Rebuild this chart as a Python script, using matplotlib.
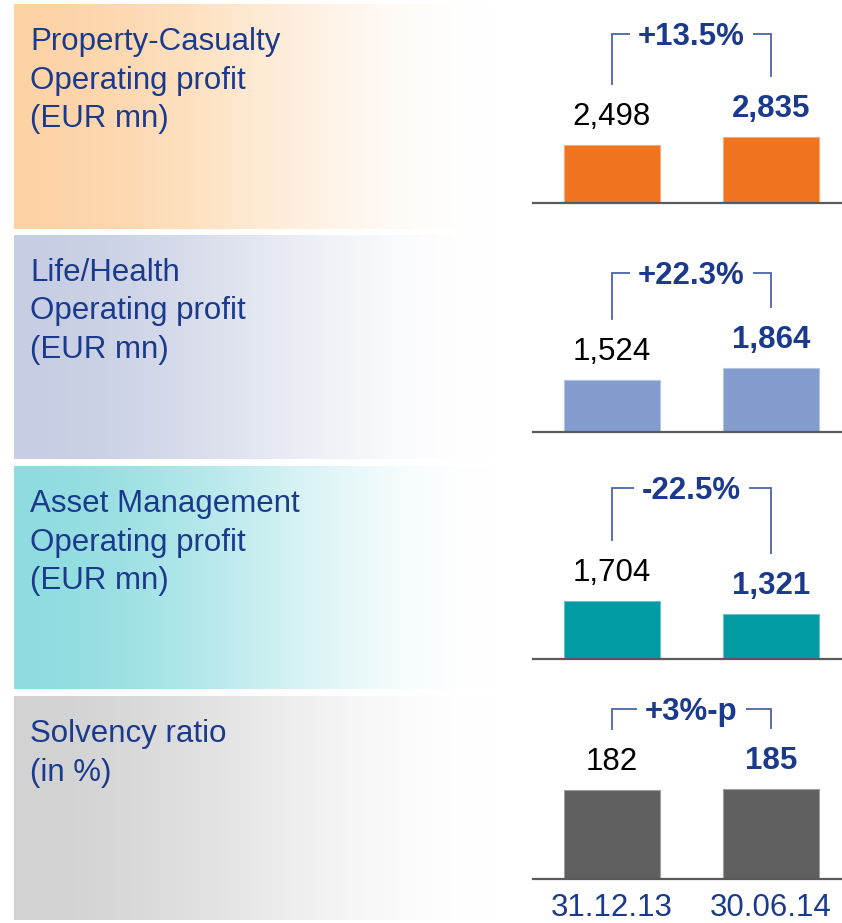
import numpy as np
import matplotlib.pyplot as plt
from matplotlib.colors import to_rgb

plt.rcParams['font.family'] = ['Liberation Sans', 'DejaVu Sans']

# data
dates = ['31.12.13', '30.06.14']
titles = [
    ['Property-Casualty', 'Operating profit', '(EUR mn)'],
    ['Life/Health', 'Operating profit', '(EUR mn)'],
    ['Asset Management', 'Operating profit', '(EUR mn)'],
    ['Solvency ratio', '(in %)'],
]
values = [[2498, 2835], [1524, 1864], [1704, 1321], [182, 185]]
changes = ['+13.5%', '+22.3%', '-22.5%', '+3%-p']

# styles
bar_colors = ['#F07320', '#829CCD', '#009BA3', '#5F5F5F']
panel_colors = ['#FDD3A6', '#C7CEE3', '#8FDCE0', '#D2D2D2']
navy = '#1B3A8C'
bracket_col = '#4A64A8'

# layout (pixels, image coords from top)
W, H = 842, 923
panel_top = [4, 235, 466, 696]
panel_bot = [229, 459, 689, 920]
baseline = [203, 432, 659, 879]
bracket_y = [34, 273, 488, 709]
ymax = [8560, 5740, 5670, 376]
fs = 22.5

fig = plt.figure(figsize=(W / 100, H / 100), dpi=100)
bg = fig.add_axes([0, 0, 1, 1])
bg.set_xlim(0, W)
bg.set_ylim(H, 0)
bg.axis('off')


def lighter(c, f=0.4):
    c = np.array(to_rgb(c))
    return tuple(c * (1 - f) + f)


for i in range(4):
    # gradient panel, fading smoothly to white on the right
    t = np.clip(np.linspace(0, 1, 516) / 0.93, 0, 1)
    f = 3 * t ** 2 - 2 * t ** 3
    c = np.array(to_rgb(panel_colors[i]))
    rgb = c[None, :] * (1 - f)[:, None] + f[:, None]
    bg.imshow(rgb[None], extent=[14, 530, panel_bot[i], panel_top[i]],
              aspect='auto', interpolation='bilinear')
    for k, line in enumerate(titles[i]):
        bg.text(30, panel_top[i] + 46 + k * 38.5, line, fontsize=fs,
                color=navy, va='baseline')

    # bars
    ax = fig.add_axes([533 / W, 1 - baseline[i] / H, (W - 533) / W,
                       (baseline[i] - panel_top[i]) / H])
    ax.patch.set_alpha(0)
    ax.set_xlim(-0.497, 1.447)
    ax.set_ylim(0, ymax[i])
    ax.bar([0, 1], values[i], width=0.604, color=bar_colors[i],
           edgecolor=lighter(bar_colors[i]), linewidth=0.8)
    for s in ['top', 'left', 'right']:
        ax.spines[s].set_visible(False)
    ax.spines['bottom'].set_color('#5A5A5A')
    ax.spines['bottom'].set_linewidth(1.6)
    ax.set_xticks([])
    ax.set_yticks([])

    for j, v in enumerate(values[i]):
        ax.annotate(f'{v:,}', (j, v), xytext=(0, 14.5), textcoords='offset points',
                    ha='center', va='baseline', fontsize=fs,
                    color='black' if j == 0 else navy,
                    fontweight='normal' if j == 0 else 'bold')

    # bracket with change
    pts = [ax.transData.transform((j, v)) for j, v in enumerate(values[i])]
    xs = [p[0] for p in pts]
    tops = [H - p[1] for p in pts]
    by = bracket_y[i]
    bg.plot([xs[0], xs[0], xs[1], xs[1]], [tops[0] - 61, by, by, tops[1] - 61],
            color=bracket_col, lw=1.3, solid_joinstyle='miter')
    bg.text((xs[0] + xs[1]) / 2, by + 11, changes[i], ha='center', va='baseline',
            fontsize=fs, fontweight='bold', color=navy,
            bbox=dict(boxstyle='square,pad=0.25', fc='white', ec='none'))

    if i == 3:
        for j, d in enumerate(dates):
            bg.text(xs[j], 916, d, ha='center', va='baseline', fontsize=fs, color=navy)

fig.savefig('out.png', dpi=100)
